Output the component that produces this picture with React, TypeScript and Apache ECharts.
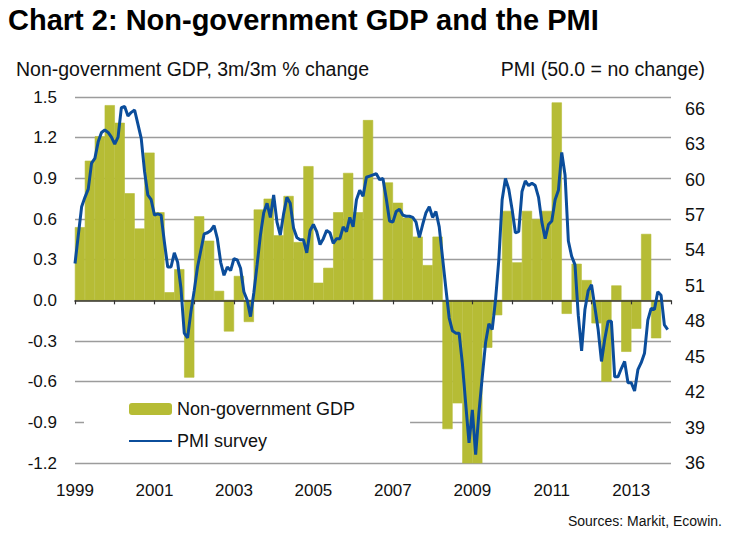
import React, { useEffect, useRef } from "react";
import * as echarts from "echarts";

const startYear = 1999;
const endYear = 2014;
const labelYears = [1999, 2001, 2003, 2005, 2007, 2009, 2011, 2013];

// Non-government GDP, 3m/3m % change, quarterly from 1999 Q1
const gdpQuarterly = [
  0.54, 1.03, 1.21, 1.44, 1.31, 0.79, 0.53, 1.09,
  0.65, 0.06, 0.23, -0.57, 0.62, 0.44, 0.07, -0.23,
  0.18, -0.16, 0.67, 0.75, 0.48, 0.77, 0.43, 0.99,
  0.13, 0.24, 0.65, 0.94, 0.65, 1.33, 0.0, 0.87,
  0.72, 0.61, 0.47, 0.26, 0.47, -0.95, -0.76, -1.23,
  -1.23, -0.35, -0.11, 0.66, 0.28, 0.66, 0.6, 0.66,
  1.46, -0.1, 0.27, 0.15, -0.17, -0.6, 0.11, -0.38,
  -0.21, 0.49, -0.28,
];

// PMI survey, monthly from Jan 1999
const pmiMonthly = [
  52.9, 55.3, 57.7, 58.5, 59.2, 61.4, 61.8, 63.2, 64.0, 64.2, 64.0, 63.6,
  63.0, 63.6, 66.1, 66.2, 65.4, 65.7, 65.9, 64.7, 63.5, 60.7, 58.7, 58.3,
  57.0, 57.1, 57.0, 54.7, 52.6, 52.6, 53.8, 53.0, 50.8, 47.0, 46.6, 48.8,
  50.6, 52.6, 54.0, 55.4, 55.5, 55.7, 56.1, 55.0, 53.0, 51.9, 52.6, 52.3,
  53.3, 53.2, 52.5, 50.5, 49.8, 48.4, 50.4, 52.8, 55.3, 57.2, 58.0, 56.8,
  58.7, 56.4, 55.3, 57.1, 58.5, 58.0, 55.9, 55.1, 54.9, 54.9, 53.8, 55.7,
  56.2, 55.6, 54.5, 55.0, 55.7, 55.5, 54.6, 55.0, 55.0, 56.0, 55.6, 56.8,
  56.0, 58.3, 59.1, 58.6, 60.2, 60.3, 60.4, 60.5, 60.0, 60.1, 58.4, 56.5,
  56.4, 57.3, 57.5, 57.0, 56.9, 56.9, 56.8, 56.4, 55.1, 56.2, 57.2, 57.7,
  56.8, 57.3, 56.0, 53.4, 50.8, 48.3, 47.2, 47.0, 47.0, 44.4, 41.0, 37.7,
  40.5, 36.7, 40.3, 43.3, 46.2, 47.8, 47.3, 49.8, 53.2, 58.3, 60.1, 59.2,
  57.5, 55.5, 55.6, 59.0, 59.9, 59.5, 59.7, 59.5, 58.5, 56.4, 55.0, 56.2,
  56.5, 58.3, 59.1, 62.3, 60.4, 54.8, 53.5, 52.8, 48.5, 45.5, 49.0, 50.6,
  51.1, 49.2, 47.3, 44.6, 46.5, 48.0, 48.0, 43.3, 43.3, 44.0, 44.6, 42.8,
  42.8, 42.1, 43.9, 44.5, 45.3, 48.1, 49.1, 49.0, 50.5, 50.2, 47.7, 47.3,
];

const FONT = "'Liberation Sans', Arial, sans-serif";
const GREEN = "#B6BC35";
const BLUE = "#0B4D9B";

export default function App() {
  const ref = useRef<HTMLDivElement>(null);

  useEffect(() => {
    if (!ref.current) return;
    const chart = echarts.init(ref.current, null, { renderer: "svg" });

    const barData = gdpQuarterly.map((v, i) => [startYear + (i + 0.5) / 4, v]);
    const lineData = pmiMonthly.map((v, i) => [startYear + i / 12, v]);

    chart.setOption({
      animation: false,
      textStyle: { fontFamily: FONT },
      grid: { left: 75, right: 65, top: 97, bottom: 81, containLabel: false },
      legend: {
        orient: "vertical",
        left: 84,
        top: 394,
        itemWidth: 43,
        itemHeight: 12,
        itemGap: 14,
        backgroundColor: "#ffffff",
        padding: [6, 55, 8, 44],
        textStyle: { fontSize: 18, color: "#111", fontFamily: FONT },
        data: [
          { name: "Non-government GDP", itemStyle: { borderWidth: 0 } },
          { name: "PMI survey", itemStyle: { opacity: 0 } },
        ],
      },
      xAxis: [
        {
          type: "value",
          min: startYear,
          max: endYear,
          interval: 1,
          position: "bottom",
          z: 3,
          axisLine: {
            onZero: true,
            onZeroAxisIndex: 0,
            lineStyle: { color: "#3b3a2c", width: 1.6 },
          },
          axisTick: { show: true, length: 4, lineStyle: { color: "#333", width: 1.2 } },
          axisLabel: { show: false },
          splitLine: { show: false },
        },
        {
          type: "value",
          min: startYear,
          max: endYear,
          interval: 1,
          position: "bottom",
          axisLine: { show: false, onZero: false },
          axisTick: { show: false },
          axisLabel: {
            formatter: (v: number) => (labelYears.includes(Math.round(v)) ? String(Math.round(v)) : ""),
            fontSize: 17,
            color: "#111",
            margin: 19,
            fontFamily: FONT,
          },
          splitLine: { show: false },
        },
      ],
      yAxis: [
        {
          type: "value",
          min: -1.2,
          max: 1.5,
          interval: 0.3,
          position: "left",
          axisLine: { show: false },
          axisTick: { show: false },
          axisLabel: {
            formatter: (v: number) => (Math.abs(v) < 1e-9 ? "0.0" : v.toFixed(1)),
            fontSize: 17,
            color: "#111",
            margin: 18,
            fontFamily: FONT,
          },
          splitLine: { lineStyle: { color: "#9c9c9c", width: 1.3 } },
        },
        {
          type: "value",
          min: 36,
          max: 67,
          interval: 3,
          position: "right",
          axisLine: { show: false },
          axisTick: { show: false },
          axisLabel: {
            showMaxLabel: false,
            fontSize: 18,
            color: "#111",
            margin: 14,
            fontFamily: FONT,
          },
          splitLine: { show: false },
        },
      ],
      series: [
        {
          type: "bar",
          name: "Non-government GDP",
          xAxisIndex: 0,
          yAxisIndex: 0,
          data: barData,
          barWidth: 10.2,
          itemStyle: { color: GREEN, borderColor: GREEN, borderWidth: 0.6 },
          z: 2,
        },
        {
          type: "line",
          name: "PMI survey",
          xAxisIndex: 0,
          yAxisIndex: 1,
          data: lineData,
          symbol: "none",
          lineStyle: { color: BLUE, width: 3 },
          itemStyle: { color: BLUE },
          z: 4,
        },
      ],
      graphic: [
        {
          type: "text",
          left: 8,
          top: 5,
          style: {
            text: "Chart 2: Non-government GDP and the PMI",
            font: `bold 29px ${FONT}`,
            fill: "#000",
          },
        },
        {
          type: "text",
          left: 16,
          top: 59,
          style: {
            text: "Non-government GDP, 3m/3m % change",
            font: `19.5px ${FONT}`,
            fill: "#111",
          },
        },
        {
          type: "text",
          right: 31,
          top: 59,
          style: {
            text: "PMI (50.0 = no change)",
            font: `19.5px ${FONT}`,
            fill: "#111",
          },
        },
        {
          type: "text",
          right: 14,
          top: 514,
          style: {
            text: "Sources: Markit, Ecowin.",
            font: `14px ${FONT}`,
            fill: "#111",
          },
        },
      ],
    });

    return () => chart.dispose();
  }, []);

  return (
    <div
      ref={ref}
      style={{ position: "absolute", left: 0, top: 0, width: 736, height: 544, background: "#fff" }}
    />
  );
}
